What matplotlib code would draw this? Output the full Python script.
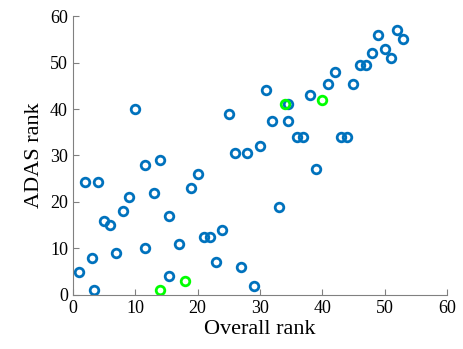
import matplotlib
matplotlib.use('Agg')
import matplotlib.pyplot as plt

# 总排名与 ADAS 排名
overall = [1, 2, 3, 3.4, 4, 5, 6, 7, 8, 9, 10, 11.5, 11.5, 13, 14, 15.5, 15.5, 17,
           19, 20, 21, 22, 23, 24, 25, 26, 27, 28, 29, 30, 31, 32, 33, 34.5, 34.5,
           36, 37, 38, 39, 41, 42, 43, 44, 45, 46, 47, 48, 49, 50, 51, 52, 53]
adas = [5, 24.4, 8, 1, 24.4, 16, 15, 9, 18, 21, 40, 28, 10, 22, 29, 17, 4, 11,
        23, 26, 12.4, 12.4, 7, 14, 39, 30.5, 6, 30.5, 2, 32, 44, 37.5, 19, 41, 37.5,
        34, 34, 43, 27, 45.4, 48, 34, 34, 45.4, 49.4, 49.4, 52, 56, 53, 51, 57, 55]

# 高亮的几个点
hl_overall = [14, 18, 34, 40]
hl_adas = [1, 3, 41, 42]

plt.rcParams['font.family'] = ['Liberation Serif', 'DejaVu Serif']

fig = plt.figure(figsize=(4.64, 3.49), dpi=100)
ax = fig.add_axes([0.157, 0.155, 0.806, 0.799])

ax.plot(overall, adas, 'o', mfc='none', mec='#0072BD', ms=6.2, mew=2)
ax.plot(hl_overall, hl_adas, 'o', mfc='none', mec='#00FF00', ms=6.2, mew=2)

ax.set_xlim(0, 60)
ax.set_ylim(0, 60)
ax.set_xticks(range(0, 61, 10))
ax.set_yticks(range(0, 61, 10))
ax.tick_params(direction='in', length=4, labelsize=13, color='#808080')
ax.spines['top'].set_visible(False)
ax.spines['right'].set_visible(False)
for s in ['left', 'bottom']:
    ax.spines[s].set_color('#808080')
ax.set_xlabel('Overall rank', fontsize=16, labelpad=2)
ax.set_ylabel('ADAS rank', fontsize=16, labelpad=4)

plt.savefig('out.png', dpi=100)
